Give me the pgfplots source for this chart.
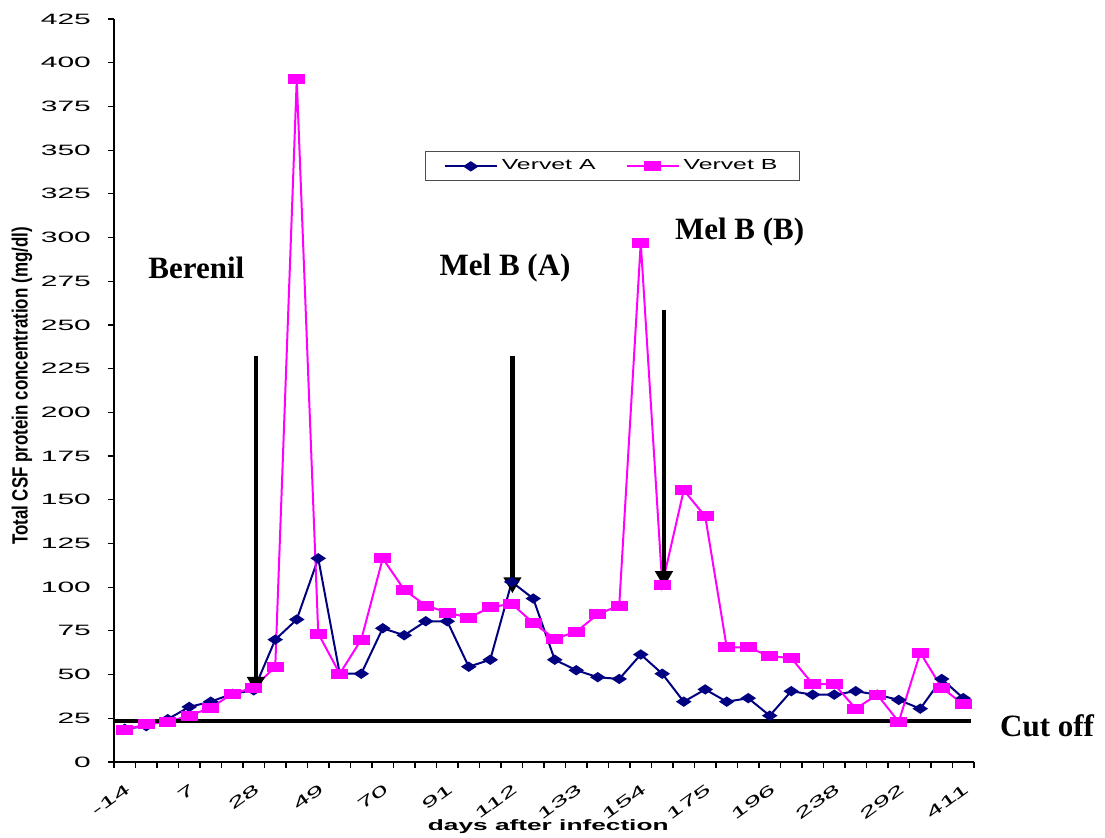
\documentclass[border=0pt]{standalone}
\usepackage{fontspec}
\usepackage{pgfplots}
\usepackage{pgfplotstable}
\pgfplotsset{compat=1.18}
\usetikzlibrary{arrows.meta}
\setmainfont{Liberation Sans}
\newfontfamily\tickfont[FakeStretch=2.0]{Liberation Sans}
\newfontfamily\legendfont[FakeStretch=1.7]{Liberation Sans}
\newfontfamily\labelfont[FakeStretch=1.75]{Liberation Sans}
\newfontfamily\narrowfont[FakeStretch=0.77]{Liberation Sans}
\newfontfamily\notefont{Liberation Serif}
\definecolor{vervetA}{RGB}{0,0,128}
\definecolor{vervetB}{RGB}{255,0,255}

% CSF protein (mg/dl) per sampling day, indexed 0..39
\pgfplotstableread{
idx A B
0 19 18.5
1 20.5 21.5
2 24.5 23
3 31.5 26.5
4 34.5 31
5 39 39
6 41 42.5
7 70 54.5
8 81.5 390.5
9 116.5 73.5
10 50.5 50.5
11 50.5 70
12 76.5 116.5
13 72.5 98.5
14 80.5 89.5
15 80.5 85.5
16 54.5 82.5
17 58.5 88.5
18 103 90.5
19 93.5 79.5
20 58.5 70.5
21 52.5 74.5
22 48.5 84.5
23 47.5 89.5
24 61.5 297
25 50.5 101.5
26 34.5 155.5
27 41.5 140.5
28 34.5 65.5
29 36.5 65.5
30 26.5 60.5
31 40.5 59.5
32 38.5 44.5
33 38.5 44.5
34 40.5 30.5
35 38.5 38.5
36 35.5 23
37 30.5 62.5
38 47.5 42.5
39 36.5 33
}\csfdata

\begin{document}
\begin{tikzpicture}
\useasboundingbox (-57pt,-37.5pt) rectangle (495.5pt,381pt);
\begin{axis}[
  scale only axis, width=430pt, height=371.5pt,
  xmin=-0.5, xmax=39.5, ymin=0, ymax=425,
  clip=false,
  axis x line=bottom, axis y line=left,
  axis line style={-, line width=0.6pt},
  ytick={0,25,...,425},
  xtick={-0.5,0.5,...,39.5}, xticklabels={},
  extra x ticks={0,3,...,39},
  extra x tick labels={-14,7,28,49,70,91,112,133,154,175,196,238,292,411},
  extra x tick style={major tick length=0pt,
    tick label style={xshift=4.5pt, yshift=-10.5pt, rotate=36, anchor=east}},
  tick align=outside, major tick length=3pt,
  tick style={black, line width=0.6pt},
  /pgf/number format/assume math mode=true,
  tick label style={font=\tickfont\fontsize{7.5pt}{8.5pt}\selectfont},
  yticklabel style={xshift=-5pt},
  xlabel={\labelfont\bfseries\fontsize{7.5pt}{9pt}\selectfont days after infection},
  xlabel style={at={(axis description cs:0.505,-0.0875)}, anchor=center},
  ylabel={\narrowfont\bfseries\fontsize{11pt}{13pt}\selectfont Total CSF protein concentration (mg/dl)},
  ylabel style={at={(axis description cs:-0.107,0.506)}, anchor=center},
  legend style={at={(axis cs:22.69,340.7)}, anchor=center,
    legend columns=2, draw=black!70, fill=white, line width=0.5pt,
    font=\legendfont\fontsize{7.3pt}{8pt}\selectfont,
    inner xsep=9pt, inner ysep=2pt,
    /tikz/every even column/.append style={column sep=13pt}},
  legend image code/.code={%
    \draw[mark repeat=2,mark phase=2] plot coordinates {(0pt,0pt) (13pt,0pt) (26pt,0pt)};},
]
\addplot[vervetA, line width=1pt, mark=diamond*,
  mark options={xscale=2, fill=vervetA, draw=vervetA}, mark size=2pt]
  table[x=idx, y=A] {\csfdata};
\addlegendentry{Vervet A}
\addplot[vervetB, line width=1pt, mark=square*,
  mark options={xscale=1.9, fill=vervetB, draw=vervetB}, mark size=2pt]
  table[x=idx, y=B] {\csfdata};
\addlegendentry{Vervet B}

% cut-off level
\addplot[black, line width=1.7pt, forget plot] coordinates {(-0.5,23.5) (39.36,23.5)};

% treatment arrows
\draw[line width=2.2pt, -{Triangle[width=8.5pt,length=8pt]}] (axis cs:6.1,232) -- (axis cs:6.1,39.5);
\draw[line width=2.2pt, -{Triangle[width=8.5pt,length=8pt]}] (axis cs:18.03,232) -- (axis cs:18.03,96.5);
\draw[line width=2.2pt, -{Triangle[width=8.5pt,length=8pt]}] (axis cs:25.08,258.6) -- (axis cs:25.08,100);

\node[font=\notefont\bfseries\fontsize{15.5pt}{18pt}\selectfont] at (axis cs:3.33,282.6) {Berenil};
\node[font=\notefont\bfseries\fontsize{15.5pt}{18pt}\selectfont] at (axis cs:17.69,282.6) {Mel B (A)};
\node[font=\notefont\bfseries\fontsize{15.5pt}{18pt}\selectfont] at (axis cs:28.6,303) {Mel B (B)};
\node[font=\notefont\bfseries\fontsize{15.5pt}{18pt}\selectfont] at (axis cs:42.9,21) {Cut off};
\end{axis}
\end{tikzpicture}
\end{document}
